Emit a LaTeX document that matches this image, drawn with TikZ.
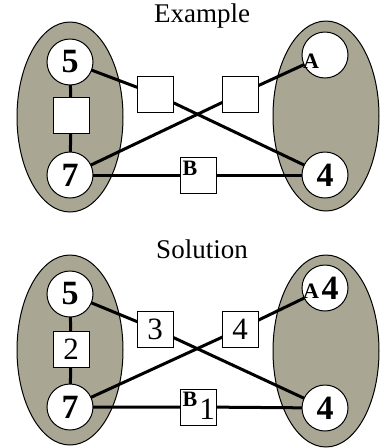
\documentclass[tikz,border=0pt]{standalone}
\usepackage{fontspec}
\setmainfont{Liberation Serif}
\definecolor{setfill}{HTML}{A9A793}
\tikzset{
  x=1pt, y=-1pt,
  groupset/.style={draw=black, line width=1pt, fill=setfill},
  vert/.style={circle, draw=black, line width=1pt, fill=white, minimum size=46pt, inner sep=0pt,
    font=\fontsize{34}{34}\selectfont\bfseries},
  edgebox/.style={rectangle, draw=black, line width=0.9pt, fill=white, minimum size=36pt, inner sep=0pt,
    font=\fontsize{31}{31}\selectfont},
  link/.style={line width=3pt, black},
  tag/.style={font=\fontsize{22}{22}\selectfont\bfseries, inner sep=0pt},
  heading/.style={font=\fontsize{27}{27}\selectfont}
}
\begin{document}
\begin{tikzpicture}
\useasboundingbox (0,0) rectangle (387,448);

% ---------- upper graph ----------
\node[heading] (t1) at (202,16) {Example};
\fill[groupset] (70,117) ellipse [x radius=53, y radius=95];
\fill[groupset] (326,116) ellipse [x radius=53, y radius=95];

\coordinate (p5) at (70,62);
\coordinate (p7) at (70,175);
\coordinate (pA) at (325,55);
\coordinate (p4) at (325,175);
\coordinate (pl) at (71,115);
\coordinate (pm) at (155,94);
\coordinate (pn) at (240,94);
\coordinate (pb) at (198,175);

\draw[link] (p5) -- (pl) -- (p7);
\draw[link] (p5) -- (pm) -- (p4);
\draw[link] (p7) -- (pn) -- (pA);
\draw[link] (p7) -- (pb) -- (p4);

\node[vert] (a5) at (p5) {5};
\node[vert] (a7) at (p7) {7};
\node[vert] (aA) at (pA) {};
\node[vert] (a4) at (p4) {4};
\node[edgebox] (al) at (pl) {};
\node[edgebox] (am) at (pm) {};
\node[edgebox] (an) at (pn) {};
\node[edgebox] (ab) at (pb) {};
\node[tag] (aAt) at (311,61) {A};
\node[tag] (aBt) at (190,168) {B};

% ---------- lower graph ----------
\node[heading] (t2) at (202,249) {Solution};
\fill[groupset] (70,350) ellipse [x radius=53, y radius=95];
\fill[groupset] (326,351) ellipse [x radius=53, y radius=96];

\coordinate (q5) at (70,294);
\coordinate (q7) at (70,407);
\coordinate (qA) at (325,288);
\coordinate (q4) at (325,408);
\coordinate (ql) at (71,349);
\coordinate (qm) at (155,329);
\coordinate (qn) at (240,329);
\coordinate (qb) at (198,407);

\draw[link] (q5) -- (ql) -- (q7);
\draw[link] (q5) -- (qm) -- (q4);
\draw[link] (q7) -- (qn) -- (qA);
\draw[link] (q7) -- (qb) -- (q4);

\node[vert] (b5) at (q5) {5};
\node[vert] (b7) at (q7) {7};
\node[vert] (bA) at (qA) {};
\node[vert] (b4) at (q4) {4};
\node[edgebox] (bl) at (ql) {2};
\node[edgebox] (bm) at (qm) {3};
\node[edgebox] (bn) at (qn) {4};
\node[edgebox] (bb) at (qb) {};
\node[tag] (bAt) at (311,291) {A};
\node[font=\fontsize{34}{34}\selectfont\bfseries, inner sep=0pt] (bAv) at (330,288) {4};
\node[tag] (bBt) at (190,399) {B};
\node[font=\fontsize{31}{31}\selectfont, inner sep=0pt] (bBv) at (207,409) {1};
\end{tikzpicture}
\end{document}
